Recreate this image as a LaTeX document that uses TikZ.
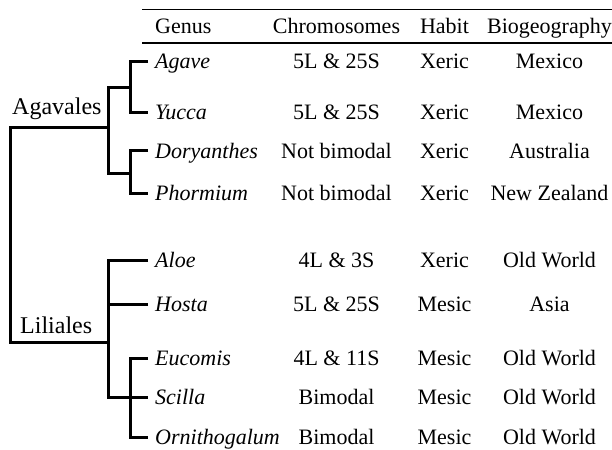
\documentclass[tikz,border=0pt]{standalone}
\usepackage{fontspec}
\setmainfont{Liberation Serif}
\begin{document}
\begin{tikzpicture}[x=1pt,y=-1pt,font=\fontsize{22}{26}\selectfont,
cell/.style={inner sep=0pt,text height=14pt,text depth=0pt},
genus/.style={cell,anchor=west,inner xsep=7pt,font=\fontsize{22}{26}\selectfont\itshape},
clade/.style={anchor=base west,inner sep=0pt,font=\fontsize{24}{28}\selectfont},
branch/.style={line width=3pt},rule/.style={line width=1.6pt}]
\useasboundingbox(0,0)rectangle(612,449);
\draw[rule](142,9.5)--(612,9.5)(142,43)--(612,43);
\node[cell,anchor=west](genus-h)at(155,27){Genus};
\node[cell](chr-h)at(336.5,27){Chromosomes};
\node[cell](hab-h)at(444.5,27){Habit};
\node[cell](geo-h)at(549.5,27){Biogeography};
\foreach\n/\y/\g/\c/\h/\b in{agave/62/Agave/5L \& 25S/Xeric/Mexico,
yucca/113/Yucca/5L \& 25S/Xeric/Mexico,dory/151/Doryanthes/Not bimodal/Xeric/Australia,
phorm/193/Phormium/Not bimodal/Xeric/New Zealand,aloe/260/Aloe/4L \& 3S/Xeric/Old World,
hosta/304/Hosta/5L \& 25S/Mesic/Asia,eucom/358/Eucomis/4L \& 11S/Mesic/Old World,
scil/397/Scilla/Bimodal/Mesic/Old World,ornith/437/Ornithogalum/Bimodal/Mesic/Old World}{
\node[genus](\n)at(148,\y){\g};
\node[cell](\n-chr)at(336.5,\y){\c};
\node[cell](\n-hab)at(444.5,\y){\h};
\node[cell](\n-geo)at(549.5,\y){\b};}
\coordinate(ay)at(130,88);\coordinate(dp)at(130,173);\coordinate(agav)at(108,128);
\coordinate(lil)at(108,342);\coordinate(eso)at(130,397);\coordinate(root)at(10,235);
\node[clade](agav-l)at(12,115){Agavales};
\node[clade](lil-l)at(20,333){Liliales};
\draw[branch](agave.west)-|(ay)|-(yucca.west)(dory.west)-|(dp)|-(phorm.west)
(ay)-|(agav)|-(dp)(aloe.west)-|(lil)|-(scil.west)(hosta.west)--(hosta.west-|lil)
(eucom.west)-|(eso)|-(ornith.west)(agav)-|(root)|-(lil);
\end{tikzpicture}
\end{document}
